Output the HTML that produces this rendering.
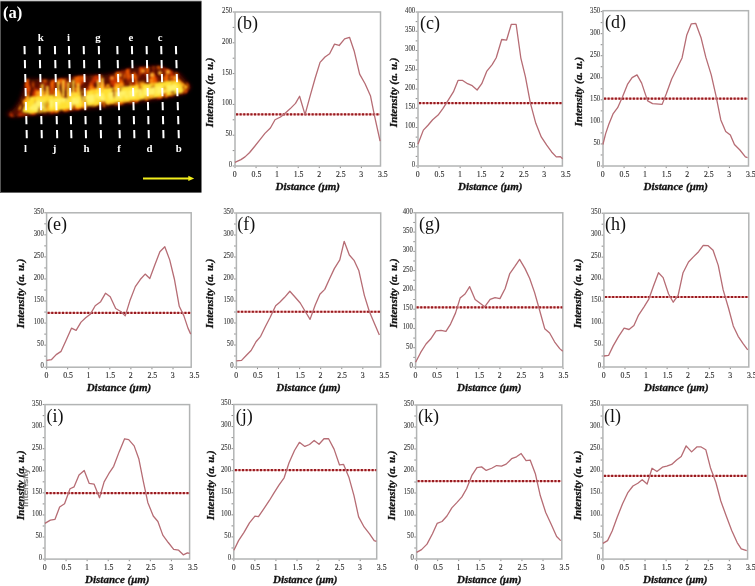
<!DOCTYPE html>
<html><head><meta charset="utf-8"><style>
html,body{margin:0;padding:0;background:#fff;}
svg{display:block;font-family:"Liberation Serif",serif;will-change:transform;filter:blur(0.3px);}
</style></head><body>
<svg width="755" height="586" viewBox="0 0 755 586">
<rect x="0" y="1" width="201.5" height="191.6" fill="#000"/>
<rect x="0" y="1" width="1" height="191.6" fill="#555"/>
<rect x="0" y="0" width="201.5" height="1.3" fill="#cfcfcf"/>
<defs><filter id="bl" x="-20%" y="-50%" width="140%" height="200%"><feGaussianBlur stdDeviation="2.2"/></filter><filter id="tx1" x="-10%" y="-40%" width="120%" height="180%"><feTurbulence type="fractalNoise" baseFrequency="0.2 0.07" numOctaves="2" seed="7" result="n"/><feColorMatrix in="n" type="matrix" values="0 0 0 0 0  0 0 0 0 0  0 0 0 0 0  7 0 0 0 -3.6" result="m"/><feComposite in="SourceGraphic" in2="m" operator="in" result="c"/><feGaussianBlur in="c" stdDeviation="0.8"/></filter><filter id="tx2" x="-10%" y="-40%" width="120%" height="180%"><feTurbulence type="fractalNoise" baseFrequency="0.18 0.06" numOctaves="2" seed="11" result="n"/><feColorMatrix in="n" type="matrix" values="0 0 0 0 0  0 0 0 0 0  0 0 0 0 0  6 0 0 0 -2.2" result="m"/><feComposite in="SourceGraphic" in2="m" operator="in" result="c"/><feGaussianBlur in="c" stdDeviation="0.8"/></filter><filter id="tx3" x="-10%" y="-40%" width="120%" height="180%"><feTurbulence type="fractalNoise" baseFrequency="0.16 0.08" numOctaves="1" seed="3" result="n"/><feColorMatrix in="n" type="matrix" values="0 0 0 0 0  0 0 0 0 0  0 0 0 0 0  6 0 0 0 -2.9" result="m"/><feComposite in="SourceGraphic" in2="m" operator="in" result="c"/><feGaussianBlur in="c" stdDeviation="0.9"/></filter><filter id="tx4" x="-10%" y="-40%" width="120%" height="180%"><feTurbulence type="fractalNoise" baseFrequency="0.2 0.09" numOctaves="2" seed="21" result="n"/><feColorMatrix in="n" type="matrix" values="0 0 0 0 0  0 0 0 0 0  0 0 0 0 0  7 0 0 0 -3.2" result="m"/><feComposite in="SourceGraphic" in2="m" operator="in" result="c"/><feGaussianBlur in="c" stdDeviation="0.8"/></filter><filter id="tx5" x="-10%" y="-40%" width="120%" height="180%"><feTurbulence type="fractalNoise" baseFrequency="0.16 0.08" numOctaves="1" seed="5" result="n"/><feColorMatrix in="n" type="matrix" values="0 0 0 0 0  0 0 0 0 0  0 0 0 0 0  5 0 0 0 -1.3" result="m"/><feComposite in="SourceGraphic" in2="m" operator="in" result="c"/><feGaussianBlur in="c" stdDeviation="0.9"/></filter><filter id="bl3" x="-20%" y="-50%" width="140%" height="200%"><feGaussianBlur stdDeviation="1"/></filter></defs>
<polygon points="6,114 14,109 20,100 24,88 27,79 53,80 80,76 106,75 132,68 159,66 180,74 191,87 186,93 180,95 159,99 132,103 106,107 80,109.5 53,113.5 27,115.5 12,117" fill="#5a0c00" filter="url(#bl)"/>
<polygon points="6,114 14,109 20,100 24,88 27,79 53,80 80,76 106,75 132,68 159,66 180,74 191,87 186,93 180,95 159,99 132,103 106,107 80,109.5 53,113.5 27,115.5 12,117" fill="#c83000" filter="url(#tx3)"/>
<polygon points="20,100 24,88 27,79 53,80 80,76 106,75 132,68 159,66 180,74 191,87 186,93 180,95 159,99 132,103 106,107 80,109.5 53,113.5" fill="#f06000" filter="url(#tx1)"/>
<polygon points="18,110 24,98 30,91 60,90 100,85 140,81 175,76 188,87 180,93 159,97 132,101 106,105 80,108 53,112 27,113" fill="#ffa012" filter="url(#tx4)"/>
<polygon points="22,112 28,97 60,94 100,89 140,85 175,80 187,87 182,93 160,97 130,101 100,104.5 60,110 30,113.5" fill="#ffe030" filter="url(#tx5)"/>
<polygon points="28,109 38,100 70,98 100,93 140,89 175,84 182,89 160,94 130,98 100,101.5 60,106.5 35,111" fill="#fff268" filter="url(#tx2)"/>
<g filter="url(#bl3)" opacity="0.9"><rect x="41" y="84" width="2.6" height="14" fill="#ffd23a"/><rect x="46" y="86" width="2.6" height="12" fill="#ffd23a"/><rect x="57" y="81" width="2.6" height="16" fill="#ffd23a"/><rect x="62" y="80" width="2.6" height="17" fill="#ffd23a"/><rect x="67" y="82" width="2.6" height="15" fill="#ffd23a"/><rect x="72" y="80" width="2.6" height="16" fill="#ffd23a"/><rect x="77" y="83" width="2.6" height="12" fill="#ffd23a"/><rect x="97" y="80" width="2.6" height="12" fill="#ffd23a"/><rect x="101" y="78" width="2.6" height="14" fill="#ffd23a"/></g>
<g filter="url(#bl3)"><circle cx="152" cy="75" r="2.2" fill="#ffb030"/><circle cx="160" cy="73" r="2" fill="#ffb030"/><circle cx="168" cy="72" r="2" fill="#ffb030"/><circle cx="143" cy="71" r="1.8" fill="#ffb030"/><circle cx="175" cy="78" r="1.8" fill="#ffb030"/><circle cx="120" cy="75" r="1.8" fill="#ffb030"/><circle cx="112" cy="78" r="1.6" fill="#ffb030"/></g>
<path d="M24.5 46L24.71 54.2 M24.85 60L25.05 68.2 M25.2 74L25.41 82.2 M25.55 88L25.75 96.2 M25.9 102L26.11 110.2 M26.25 116L26.46 124.2 M26.6 130L26.8 138.2 M39.6 46L39.8 54.2 M39.93 60L40.13 68.2 M40.27 74L40.47 82.2 M40.6 88L40.8 96.2 M40.94 102L41.14 110.2 M41.27 116L41.47 124.2 M41.61 130L41.8 138.2 M54.9 46L55.1 54.2 M55.25 60L55.45 68.2 M55.6 74L55.8 82.2 M55.95 88L56.16 96.2 M56.3 102L56.51 110.2 M56.65 116L56.86 124.2 M57 130L57.21 138.2 M68.9 46L69.12 54.2 M69.28 60L69.5 68.2 M69.66 74L69.88 82.2 M70.04 88L70.26 96.2 M70.42 102L70.64 110.2 M70.8 116L71.03 124.2 M71.18 130L71.41 138.2 M83.7 46L83.91 54.2 M84.05 60L84.25 68.2 M84.4 74L84.61 82.2 M84.75 88L84.95 96.2 M85.1 102L85.31 110.2 M85.45 116L85.66 124.2 M85.8 130L86 138.2 M98.8 46L99 54.2 M99.13 60L99.33 68.2 M99.47 74L99.67 82.2 M99.8 88L100 96.2 M100.14 102L100.34 110.2 M100.47 116L100.67 124.2 M100.81 130L101 138.2 M117.3 46L117.52 54.2 M117.68 60L117.9 68.2 M118.06 74L118.28 82.2 M118.44 88L118.66 96.2 M118.82 102L119.04 110.2 M119.2 116L119.42 124.2 M119.58 130L119.81 138.2 M131.9 46L132.12 54.2 M132.28 60L132.5 68.2 M132.66 74L132.88 82.2 M133.04 88L133.26 96.2 M133.42 102L133.64 110.2 M133.8 116L134.03 124.2 M134.18 130L134.41 138.2 M146.6 46L146.8 54.2 M146.93 60L147.13 68.2 M147.27 74L147.47 82.2 M147.6 88L147.8 96.2 M147.94 102L148.14 110.2 M148.27 116L148.47 124.2 M148.61 130L148.8 138.2 M161.2 46L161.41 54.2 M161.55 60L161.75 68.2 M161.9 74L162.1 82.2 M162.25 88L162.45 96.2 M162.6 102L162.81 110.2 M162.95 116L163.16 124.2 M163.3 130L163.5 138.2 M175.9 46L176.16 54.2 M176.34 60L176.6 68.2 M176.78 74L177.04 82.2 M177.22 88L177.48 96.2 M177.67 102L177.92 110.2 M178.11 116L178.37 124.2 M178.55 130L178.81 138.2" stroke="#fff" stroke-width="2" fill="none"/>
<text x="40.8" y="40.8" text-anchor="middle" font-size="10.8" font-weight="bold" fill="#fff">k</text>
<text x="68.6" y="40.8" text-anchor="middle" font-size="10.8" font-weight="bold" fill="#fff">i</text>
<text x="98" y="40.8" text-anchor="middle" font-size="10.8" font-weight="bold" fill="#fff">g</text>
<text x="130.8" y="40.8" text-anchor="middle" font-size="10.8" font-weight="bold" fill="#fff">e</text>
<text x="160.1" y="40.8" text-anchor="middle" font-size="10.8" font-weight="bold" fill="#fff">c</text>
<text x="25.5" y="151.8" text-anchor="middle" font-size="10.8" font-weight="bold" fill="#fff">l</text>
<text x="54.6" y="151.8" text-anchor="middle" font-size="10.8" font-weight="bold" fill="#fff">j</text>
<text x="86.5" y="151.8" text-anchor="middle" font-size="10.8" font-weight="bold" fill="#fff">h</text>
<text x="119.1" y="151.8" text-anchor="middle" font-size="10.8" font-weight="bold" fill="#fff">f</text>
<text x="149.5" y="151.8" text-anchor="middle" font-size="10.8" font-weight="bold" fill="#fff">d</text>
<text x="178.8" y="151.8" text-anchor="middle" font-size="10.8" font-weight="bold" fill="#fff">b</text>
<text x="3" y="18" font-size="16.5" font-weight="bold" fill="#fff">(a)</text>
<path d="M143 178.4H189" stroke="#f2ee1c" stroke-width="2"/>
<path d="M188.3 175.8L194.2 178.4L188.3 181Z" fill="#f2ee1c"/>
<rect x="235" y="12" width="145.5" height="154" fill="none" stroke="#b2b4b4" stroke-width="1.5"/>
<path d="M234.3 166h-1.6 M234.3 150.6h-1.6 M234.3 135.2h-1.6 M234.3 119.8h-1.6 M234.3 104.4h-1.6 M234.3 89h-1.6 M234.3 73.6h-1.6 M234.3 58.2h-1.6 M234.3 42.8h-1.6 M234.3 27.4h-1.6 M234.3 12h-1.6 M235 166.7v1.4 M256.07 166.7v1.4 M277.14 166.7v1.4 M298.21 166.7v1.4 M319.28 166.7v1.4 M340.35 166.7v1.4 M361.42 166.7v1.4" stroke="#8a8a8a" stroke-width="1" fill="none"/>
<text transform="translate(232.2 166.9) scale(0.9 1)" text-anchor="end" font-size="7.5" fill="#3a3a3a" stroke="#3a3a3a" stroke-width="0.1">0</text>
<text transform="translate(232.2 136.1) scale(0.9 1)" text-anchor="end" font-size="7.5" fill="#3a3a3a" stroke="#3a3a3a" stroke-width="0.1">50</text>
<text transform="translate(232.2 105.3) scale(0.9 1)" text-anchor="end" font-size="7.5" fill="#3a3a3a" stroke="#3a3a3a" stroke-width="0.1">100</text>
<text transform="translate(232.2 74.5) scale(0.9 1)" text-anchor="end" font-size="7.5" fill="#3a3a3a" stroke="#3a3a3a" stroke-width="0.1">150</text>
<text transform="translate(232.2 43.7) scale(0.9 1)" text-anchor="end" font-size="7.5" fill="#3a3a3a" stroke="#3a3a3a" stroke-width="0.1">200</text>
<text transform="translate(232.2 12.9) scale(0.9 1)" text-anchor="end" font-size="7.5" fill="#3a3a3a" stroke="#3a3a3a" stroke-width="0.1">250</text>
<text x="234.8" y="176.8" text-anchor="middle" font-size="7.8" fill="#2a2a2a" stroke="#2a2a2a" stroke-width="0.12">0</text>
<text x="256.47" y="176.8" text-anchor="middle" font-size="7.8" fill="#2a2a2a" stroke="#2a2a2a" stroke-width="0.12">0.5</text>
<text x="276.94" y="176.8" text-anchor="middle" font-size="7.8" fill="#2a2a2a" stroke="#2a2a2a" stroke-width="0.12">1</text>
<text x="298.61" y="176.8" text-anchor="middle" font-size="7.8" fill="#2a2a2a" stroke="#2a2a2a" stroke-width="0.12">1.5</text>
<text x="319.08" y="176.8" text-anchor="middle" font-size="7.8" fill="#2a2a2a" stroke="#2a2a2a" stroke-width="0.12">2</text>
<text x="340.75" y="176.8" text-anchor="middle" font-size="7.8" fill="#2a2a2a" stroke="#2a2a2a" stroke-width="0.12">2.5</text>
<text x="361.22" y="176.8" text-anchor="middle" font-size="7.8" fill="#2a2a2a" stroke="#2a2a2a" stroke-width="0.12">3</text>
<text x="382.89" y="176.8" text-anchor="middle" font-size="7.8" fill="#2a2a2a" stroke="#2a2a2a" stroke-width="0.12">3.5</text>
<text x="307.75" y="190.2" text-anchor="middle" font-size="11" font-weight="bold" font-style="italic" fill="#111" stroke="#111" stroke-width="0.3">Distance (μm)</text>
<text transform="translate(213.3 92.3) rotate(-90)" text-anchor="middle" font-size="11" font-weight="bold" font-style="italic" fill="#111" stroke="#111" stroke-width="0.3">Intensity (a. u.)</text>
<text x="237" y="29" font-size="18" fill="#111">(b)</text>
<line x1="236" y1="114.3" x2="380" y2="114.3" stroke="#e06060" stroke-width="1.8" opacity="0.5"/>
<line x1="236" y1="114.3" x2="380" y2="114.3" stroke="#961a1f" stroke-width="2.2" stroke-dasharray="2.1 1.5"/>
<path d="M234.91 162.35 L240.92 159.62 L245.01 156.89 L249.65 152.53 L254.56 146.52 L260.02 139.69 L264.93 133.41 L270.39 127.95 L275.03 119.76 L280.48 117.03 L284.58 113.75 L290.04 108.84 L295.49 103.38 L299.59 96.28 L305.04 114.57 L310.5 94.64 L315.14 78.26 L320.05 62.42 L324.96 56.96 L329.6 53.69 L334.52 44.13 L339.15 45.49 L344.61 38.94 L349.52 37.3 L354.16 50.96 L359.62 74.16 L365.08 83.72 L370.54 96.01 L374.63 116.48 L380.09 141.06" fill="none" stroke="#b66c74" stroke-width="1.3" stroke-linejoin="round"/>
<rect x="418" y="12" width="144.4" height="154" fill="none" stroke="#b2b4b4" stroke-width="1.5"/>
<path d="M417.3 166h-1.6 M417.3 156.38h-1.6 M417.3 146.75h-1.6 M417.3 137.12h-1.6 M417.3 127.5h-1.6 M417.3 117.88h-1.6 M417.3 108.25h-1.6 M417.3 98.62h-1.6 M417.3 89h-1.6 M417.3 79.38h-1.6 M417.3 69.75h-1.6 M417.3 60.12h-1.6 M417.3 50.5h-1.6 M417.3 40.88h-1.6 M417.3 31.25h-1.6 M417.3 21.62h-1.6 M417.3 12h-1.6 M418 166.7v1.4 M439.07 166.7v1.4 M460.14 166.7v1.4 M481.21 166.7v1.4 M502.28 166.7v1.4 M523.35 166.7v1.4 M544.42 166.7v1.4" stroke="#8a8a8a" stroke-width="1" fill="none"/>
<text transform="translate(415.2 166.9) scale(0.9 1)" text-anchor="end" font-size="7.5" fill="#3a3a3a" stroke="#3a3a3a" stroke-width="0.1">0</text>
<text transform="translate(415.2 147.65) scale(0.9 1)" text-anchor="end" font-size="7.5" fill="#3a3a3a" stroke="#3a3a3a" stroke-width="0.1">50</text>
<text transform="translate(415.2 128.4) scale(0.9 1)" text-anchor="end" font-size="7.5" fill="#3a3a3a" stroke="#3a3a3a" stroke-width="0.1">100</text>
<text transform="translate(415.2 109.15) scale(0.9 1)" text-anchor="end" font-size="7.5" fill="#3a3a3a" stroke="#3a3a3a" stroke-width="0.1">150</text>
<text transform="translate(415.2 89.9) scale(0.9 1)" text-anchor="end" font-size="7.5" fill="#3a3a3a" stroke="#3a3a3a" stroke-width="0.1">200</text>
<text transform="translate(415.2 70.65) scale(0.9 1)" text-anchor="end" font-size="7.5" fill="#3a3a3a" stroke="#3a3a3a" stroke-width="0.1">250</text>
<text transform="translate(415.2 51.4) scale(0.9 1)" text-anchor="end" font-size="7.5" fill="#3a3a3a" stroke="#3a3a3a" stroke-width="0.1">300</text>
<text transform="translate(415.2 32.15) scale(0.9 1)" text-anchor="end" font-size="7.5" fill="#3a3a3a" stroke="#3a3a3a" stroke-width="0.1">350</text>
<text transform="translate(415.2 12.9) scale(0.9 1)" text-anchor="end" font-size="7.5" fill="#3a3a3a" stroke="#3a3a3a" stroke-width="0.1">400</text>
<text x="417.8" y="176.8" text-anchor="middle" font-size="7.8" fill="#2a2a2a" stroke="#2a2a2a" stroke-width="0.12">0</text>
<text x="439.47" y="176.8" text-anchor="middle" font-size="7.8" fill="#2a2a2a" stroke="#2a2a2a" stroke-width="0.12">0.5</text>
<text x="459.94" y="176.8" text-anchor="middle" font-size="7.8" fill="#2a2a2a" stroke="#2a2a2a" stroke-width="0.12">1</text>
<text x="481.61" y="176.8" text-anchor="middle" font-size="7.8" fill="#2a2a2a" stroke="#2a2a2a" stroke-width="0.12">1.5</text>
<text x="502.08" y="176.8" text-anchor="middle" font-size="7.8" fill="#2a2a2a" stroke="#2a2a2a" stroke-width="0.12">2</text>
<text x="523.75" y="176.8" text-anchor="middle" font-size="7.8" fill="#2a2a2a" stroke="#2a2a2a" stroke-width="0.12">2.5</text>
<text x="544.22" y="176.8" text-anchor="middle" font-size="7.8" fill="#2a2a2a" stroke="#2a2a2a" stroke-width="0.12">3</text>
<text x="565.89" y="176.8" text-anchor="middle" font-size="7.8" fill="#2a2a2a" stroke="#2a2a2a" stroke-width="0.12">3.5</text>
<text x="490.2" y="190.2" text-anchor="middle" font-size="11" font-weight="bold" font-style="italic" fill="#111" stroke="#111" stroke-width="0.3">Distance (μm)</text>
<text transform="translate(396.7 92.3) rotate(-90)" text-anchor="middle" font-size="11" font-weight="bold" font-style="italic" fill="#111" stroke="#111" stroke-width="0.3">Intensity (a. u.)</text>
<text x="420" y="29" font-size="18" fill="#111">(c)</text>
<line x1="419" y1="103.11" x2="561.9" y2="103.11" stroke="#e06060" stroke-width="1.8" opacity="0.5"/>
<line x1="419" y1="103.11" x2="561.9" y2="103.11" stroke="#961a1f" stroke-width="2.2" stroke-dasharray="2.1 1.5"/>
<path d="M417.91 144.33 L423.37 130.14 L428.01 125.22 L432.65 119.76 L438.11 115.12 L443.02 108.29 L447.93 100.65 L453.39 91.91 L458.03 80.44 L462.67 80.44 L467.58 83.72 L471.67 85.36 L477.13 90 L481.77 83.72 L486.68 71.43 L492.14 64.61 L496.23 57.78 L501.69 39.49 L506.6 40.03 L511.24 24.47 L516.15 24.47 L520.79 57.78 L525.43 76.89 L530.34 102.83 L535.8 123.31 L541.26 136.96 L546.71 145.15 L551.63 151.98 L556.27 156.89 L560.36 156.62 L562.54 158.81" fill="none" stroke="#b66c74" stroke-width="1.3" stroke-linejoin="round"/>
<rect x="603" y="10.7" width="145.5" height="155.3" fill="none" stroke="#b2b4b4" stroke-width="1.5"/>
<path d="M602.3 166h-1.6 M602.3 154.97h-1.6 M602.3 143.94h-1.6 M602.3 132.91h-1.6 M602.3 121.89h-1.6 M602.3 110.86h-1.6 M602.3 99.83h-1.6 M602.3 88.8h-1.6 M602.3 77.77h-1.6 M602.3 66.74h-1.6 M602.3 55.71h-1.6 M602.3 44.69h-1.6 M602.3 33.66h-1.6 M602.3 22.63h-1.6 M602.3 11.6h-1.6 M603 166.7v1.4 M624.07 166.7v1.4 M645.14 166.7v1.4 M666.21 166.7v1.4 M687.28 166.7v1.4 M708.35 166.7v1.4 M729.42 166.7v1.4" stroke="#8a8a8a" stroke-width="1" fill="none"/>
<text transform="translate(600.2 166.9) scale(0.9 1)" text-anchor="end" font-size="7.5" fill="#3a3a3a" stroke="#3a3a3a" stroke-width="0.1">0</text>
<text transform="translate(600.2 144.84) scale(0.9 1)" text-anchor="end" font-size="7.5" fill="#3a3a3a" stroke="#3a3a3a" stroke-width="0.1">50</text>
<text transform="translate(600.2 122.79) scale(0.9 1)" text-anchor="end" font-size="7.5" fill="#3a3a3a" stroke="#3a3a3a" stroke-width="0.1">100</text>
<text transform="translate(600.2 100.73) scale(0.9 1)" text-anchor="end" font-size="7.5" fill="#3a3a3a" stroke="#3a3a3a" stroke-width="0.1">150</text>
<text transform="translate(600.2 78.67) scale(0.9 1)" text-anchor="end" font-size="7.5" fill="#3a3a3a" stroke="#3a3a3a" stroke-width="0.1">200</text>
<text transform="translate(600.2 56.61) scale(0.9 1)" text-anchor="end" font-size="7.5" fill="#3a3a3a" stroke="#3a3a3a" stroke-width="0.1">250</text>
<text transform="translate(600.2 34.56) scale(0.9 1)" text-anchor="end" font-size="7.5" fill="#3a3a3a" stroke="#3a3a3a" stroke-width="0.1">300</text>
<text transform="translate(600.2 12.5) scale(0.9 1)" text-anchor="end" font-size="7.5" fill="#3a3a3a" stroke="#3a3a3a" stroke-width="0.1">350</text>
<text x="602.8" y="176.8" text-anchor="middle" font-size="7.8" fill="#2a2a2a" stroke="#2a2a2a" stroke-width="0.12">0</text>
<text x="624.47" y="176.8" text-anchor="middle" font-size="7.8" fill="#2a2a2a" stroke="#2a2a2a" stroke-width="0.12">0.5</text>
<text x="644.94" y="176.8" text-anchor="middle" font-size="7.8" fill="#2a2a2a" stroke="#2a2a2a" stroke-width="0.12">1</text>
<text x="666.61" y="176.8" text-anchor="middle" font-size="7.8" fill="#2a2a2a" stroke="#2a2a2a" stroke-width="0.12">1.5</text>
<text x="687.08" y="176.8" text-anchor="middle" font-size="7.8" fill="#2a2a2a" stroke="#2a2a2a" stroke-width="0.12">2</text>
<text x="708.75" y="176.8" text-anchor="middle" font-size="7.8" fill="#2a2a2a" stroke="#2a2a2a" stroke-width="0.12">2.5</text>
<text x="729.22" y="176.8" text-anchor="middle" font-size="7.8" fill="#2a2a2a" stroke="#2a2a2a" stroke-width="0.12">3</text>
<text x="750.89" y="176.8" text-anchor="middle" font-size="7.8" fill="#2a2a2a" stroke="#2a2a2a" stroke-width="0.12">3.5</text>
<text x="675.75" y="190.2" text-anchor="middle" font-size="11" font-weight="bold" font-style="italic" fill="#111" stroke="#111" stroke-width="0.3">Distance (μm)</text>
<text transform="translate(581.8 91.65) rotate(-90)" text-anchor="middle" font-size="11" font-weight="bold" font-style="italic" fill="#111" stroke="#111" stroke-width="0.3">Intensity (a. u.)</text>
<text x="605" y="28.1" font-size="18" fill="#111">(d)</text>
<line x1="604" y1="98.65" x2="748" y2="98.65" stroke="#e06060" stroke-width="1.8" opacity="0.5"/>
<line x1="604" y1="98.65" x2="748" y2="98.65" stroke="#961a1f" stroke-width="2.2" stroke-dasharray="2.1 1.5"/>
<path d="M602.91 144.52 L605.64 133.6 L608.92 124.04 L613.01 113.94 L617.65 107.66 L622.56 96.74 L627.47 84.45 L632.11 77.62 L637.02 74.89 L641.66 83.09 L645.76 95.37 L647.67 100.83 L652.58 103.56 L662.13 104.38 L666.22 94.01 L671.68 78.99 L677.14 68.07 L682.05 57.97 L686.69 35.3 L691.33 23.84 L695.69 23.29 L701.15 38.03 L705.79 57.15 L711.25 74.89 L715.89 95.37 L720.8 119.95 L725.71 131.41 L730.35 134.96 L734.44 144.52 L739.9 149.98 L745.36 156.81 L747.54 157.62" fill="none" stroke="#b66c74" stroke-width="1.3" stroke-linejoin="round"/>
<rect x="46.6" y="212.8" width="144.6" height="154.4" fill="none" stroke="#b2b4b4" stroke-width="1.5"/>
<path d="M45.9 367.2h-1.6 M45.9 356.17h-1.6 M45.9 345.14h-1.6 M45.9 334.11h-1.6 M45.9 323.09h-1.6 M45.9 312.06h-1.6 M45.9 301.03h-1.6 M45.9 290h-1.6 M45.9 278.97h-1.6 M45.9 267.94h-1.6 M45.9 256.91h-1.6 M45.9 245.89h-1.6 M45.9 234.86h-1.6 M45.9 223.83h-1.6 M45.9 212.8h-1.6 M46.6 367.9v1.4 M67.67 367.9v1.4 M88.74 367.9v1.4 M109.81 367.9v1.4 M130.88 367.9v1.4 M151.95 367.9v1.4 M173.02 367.9v1.4" stroke="#8a8a8a" stroke-width="1" fill="none"/>
<text transform="translate(43.8 368.1) scale(0.9 1)" text-anchor="end" font-size="7.5" fill="#3a3a3a" stroke="#3a3a3a" stroke-width="0.1">0</text>
<text transform="translate(43.8 346.04) scale(0.9 1)" text-anchor="end" font-size="7.5" fill="#3a3a3a" stroke="#3a3a3a" stroke-width="0.1">50</text>
<text transform="translate(43.8 323.99) scale(0.9 1)" text-anchor="end" font-size="7.5" fill="#3a3a3a" stroke="#3a3a3a" stroke-width="0.1">100</text>
<text transform="translate(43.8 301.93) scale(0.9 1)" text-anchor="end" font-size="7.5" fill="#3a3a3a" stroke="#3a3a3a" stroke-width="0.1">150</text>
<text transform="translate(43.8 279.87) scale(0.9 1)" text-anchor="end" font-size="7.5" fill="#3a3a3a" stroke="#3a3a3a" stroke-width="0.1">200</text>
<text transform="translate(43.8 257.81) scale(0.9 1)" text-anchor="end" font-size="7.5" fill="#3a3a3a" stroke="#3a3a3a" stroke-width="0.1">250</text>
<text transform="translate(43.8 235.76) scale(0.9 1)" text-anchor="end" font-size="7.5" fill="#3a3a3a" stroke="#3a3a3a" stroke-width="0.1">300</text>
<text transform="translate(43.8 213.7) scale(0.9 1)" text-anchor="end" font-size="7.5" fill="#3a3a3a" stroke="#3a3a3a" stroke-width="0.1">350</text>
<text x="46.4" y="378" text-anchor="middle" font-size="7.8" fill="#2a2a2a" stroke="#2a2a2a" stroke-width="0.12">0</text>
<text x="68.07" y="378" text-anchor="middle" font-size="7.8" fill="#2a2a2a" stroke="#2a2a2a" stroke-width="0.12">0.5</text>
<text x="88.54" y="378" text-anchor="middle" font-size="7.8" fill="#2a2a2a" stroke="#2a2a2a" stroke-width="0.12">1</text>
<text x="110.21" y="378" text-anchor="middle" font-size="7.8" fill="#2a2a2a" stroke="#2a2a2a" stroke-width="0.12">1.5</text>
<text x="130.68" y="378" text-anchor="middle" font-size="7.8" fill="#2a2a2a" stroke="#2a2a2a" stroke-width="0.12">2</text>
<text x="152.35" y="378" text-anchor="middle" font-size="7.8" fill="#2a2a2a" stroke="#2a2a2a" stroke-width="0.12">2.5</text>
<text x="172.82" y="378" text-anchor="middle" font-size="7.8" fill="#2a2a2a" stroke="#2a2a2a" stroke-width="0.12">3</text>
<text x="194.49" y="378" text-anchor="middle" font-size="7.8" fill="#2a2a2a" stroke="#2a2a2a" stroke-width="0.12">3.5</text>
<text x="118.9" y="391.4" text-anchor="middle" font-size="11" font-weight="bold" font-style="italic" fill="#111" stroke="#111" stroke-width="0.3">Distance (μm)</text>
<text transform="translate(24.1 293.3) rotate(-90)" text-anchor="middle" font-size="11" font-weight="bold" font-style="italic" fill="#111" stroke="#111" stroke-width="0.3">Intensity (a. u.)</text>
<text x="47" y="230.1" font-size="18" fill="#111">(e)</text>
<line x1="47.6" y1="312.85" x2="190.7" y2="312.85" stroke="#e06060" stroke-width="1.8" opacity="0.5"/>
<line x1="47.6" y1="312.85" x2="190.7" y2="312.85" stroke="#961a1f" stroke-width="2.2" stroke-dasharray="2.1 1.5"/>
<path d="M46.64 360.35 L51.55 359.54 L56.19 354.62 L61.1 351.34 L66.01 340.42 L71.47 328.14 L76.11 330.32 L81.02 322.13 L85.66 317.76 L90.57 313.94 L95.21 305.75 L100.67 301.65 L105.58 293.19 L110.22 296.74 L115.68 308.48 L121.14 311.75 L125.23 315.85 L129.87 300.83 L135.33 286.63 L140.24 279.54 L145.15 274.08 L149.79 278.44 L154.7 265.34 L159.89 251.69 L164.8 246.77 L169.71 259.88 L174.35 278.99 L179.26 306.29 L183.9 315.85 L187.99 328.14 L190.72 334.14" fill="none" stroke="#b66c74" stroke-width="1.3" stroke-linejoin="round"/>
<rect x="236.4" y="213" width="144.3" height="154" fill="none" stroke="#b2b4b4" stroke-width="1.5"/>
<path d="M235.7 367h-1.6 M235.7 356h-1.6 M235.7 345h-1.6 M235.7 334h-1.6 M235.7 323h-1.6 M235.7 312h-1.6 M235.7 301h-1.6 M235.7 290h-1.6 M235.7 279h-1.6 M235.7 268h-1.6 M235.7 257h-1.6 M235.7 246h-1.6 M235.7 235h-1.6 M235.7 224h-1.6 M235.7 213h-1.6 M236.4 367.7v1.4 M257.47 367.7v1.4 M278.54 367.7v1.4 M299.61 367.7v1.4 M320.68 367.7v1.4 M341.75 367.7v1.4 M362.82 367.7v1.4" stroke="#8a8a8a" stroke-width="1" fill="none"/>
<text transform="translate(233.6 367.9) scale(0.9 1)" text-anchor="end" font-size="7.5" fill="#3a3a3a" stroke="#3a3a3a" stroke-width="0.1">0</text>
<text transform="translate(233.6 345.9) scale(0.9 1)" text-anchor="end" font-size="7.5" fill="#3a3a3a" stroke="#3a3a3a" stroke-width="0.1">50</text>
<text transform="translate(233.6 323.9) scale(0.9 1)" text-anchor="end" font-size="7.5" fill="#3a3a3a" stroke="#3a3a3a" stroke-width="0.1">100</text>
<text transform="translate(233.6 301.9) scale(0.9 1)" text-anchor="end" font-size="7.5" fill="#3a3a3a" stroke="#3a3a3a" stroke-width="0.1">150</text>
<text transform="translate(233.6 279.9) scale(0.9 1)" text-anchor="end" font-size="7.5" fill="#3a3a3a" stroke="#3a3a3a" stroke-width="0.1">200</text>
<text transform="translate(233.6 257.9) scale(0.9 1)" text-anchor="end" font-size="7.5" fill="#3a3a3a" stroke="#3a3a3a" stroke-width="0.1">250</text>
<text transform="translate(233.6 235.9) scale(0.9 1)" text-anchor="end" font-size="7.5" fill="#3a3a3a" stroke="#3a3a3a" stroke-width="0.1">300</text>
<text transform="translate(233.6 213.9) scale(0.9 1)" text-anchor="end" font-size="7.5" fill="#3a3a3a" stroke="#3a3a3a" stroke-width="0.1">350</text>
<text x="236.2" y="377.8" text-anchor="middle" font-size="7.8" fill="#2a2a2a" stroke="#2a2a2a" stroke-width="0.12">0</text>
<text x="257.87" y="377.8" text-anchor="middle" font-size="7.8" fill="#2a2a2a" stroke="#2a2a2a" stroke-width="0.12">0.5</text>
<text x="278.34" y="377.8" text-anchor="middle" font-size="7.8" fill="#2a2a2a" stroke="#2a2a2a" stroke-width="0.12">1</text>
<text x="300.01" y="377.8" text-anchor="middle" font-size="7.8" fill="#2a2a2a" stroke="#2a2a2a" stroke-width="0.12">1.5</text>
<text x="320.48" y="377.8" text-anchor="middle" font-size="7.8" fill="#2a2a2a" stroke="#2a2a2a" stroke-width="0.12">2</text>
<text x="342.15" y="377.8" text-anchor="middle" font-size="7.8" fill="#2a2a2a" stroke="#2a2a2a" stroke-width="0.12">2.5</text>
<text x="362.62" y="377.8" text-anchor="middle" font-size="7.8" fill="#2a2a2a" stroke="#2a2a2a" stroke-width="0.12">3</text>
<text x="384.29" y="377.8" text-anchor="middle" font-size="7.8" fill="#2a2a2a" stroke="#2a2a2a" stroke-width="0.12">3.5</text>
<text x="308.55" y="391.2" text-anchor="middle" font-size="11" font-weight="bold" font-style="italic" fill="#111" stroke="#111" stroke-width="0.3">Distance (μm)</text>
<text transform="translate(213.1 293.3) rotate(-90)" text-anchor="middle" font-size="11" font-weight="bold" font-style="italic" fill="#111" stroke="#111" stroke-width="0.3">Intensity (a. u.)</text>
<text x="237.2" y="230.1" font-size="18" fill="#111">(f)</text>
<line x1="237.4" y1="311.75" x2="380.2" y2="311.75" stroke="#e06060" stroke-width="1.8" opacity="0.5"/>
<line x1="237.4" y1="311.75" x2="380.2" y2="311.75" stroke="#961a1f" stroke-width="2.2" stroke-dasharray="2.1 1.5"/>
<path d="M236.37 360.9 L241.55 360.35 L246.19 355.44 L251.1 350.53 L256.01 341.79 L260.65 336.33 L265.29 326.77 L270.2 317.22 L275.66 305.75 L279.76 302.2 L284.39 297.56 L289.85 291.28 L294.76 296.74 L300.22 303.02 L305.13 311.21 L310.05 319.4 L315.23 304.93 L319.87 294.28 L324.78 289.37 L329.69 278.44 L334.33 268.61 L339.79 259.88 L344.16 241.31 L349.34 254.96 L354.25 260.7 L358.89 270.8 L364.35 295.37 L369.26 311.21 L373.9 322.13 L379.36 334.96" fill="none" stroke="#b66c74" stroke-width="1.3" stroke-linejoin="round"/>
<rect x="415.6" y="212.8" width="147.2" height="154.2" fill="none" stroke="#b2b4b4" stroke-width="1.5"/>
<path d="M414.9 367h-1.6 M414.9 357.36h-1.6 M414.9 347.73h-1.6 M414.9 338.09h-1.6 M414.9 328.45h-1.6 M414.9 318.81h-1.6 M414.9 309.18h-1.6 M414.9 299.54h-1.6 M414.9 289.9h-1.6 M414.9 280.26h-1.6 M414.9 270.62h-1.6 M414.9 260.99h-1.6 M414.9 251.35h-1.6 M414.9 241.71h-1.6 M414.9 232.08h-1.6 M414.9 222.44h-1.6 M414.9 212.8h-1.6 M415.6 367.7v1.4 M436.67 367.7v1.4 M457.74 367.7v1.4 M478.81 367.7v1.4 M499.88 367.7v1.4 M520.95 367.7v1.4 M542.02 367.7v1.4 M563.09 367.7v1.4" stroke="#8a8a8a" stroke-width="1" fill="none"/>
<text transform="translate(412.8 367.9) scale(0.9 1)" text-anchor="end" font-size="7.5" fill="#3a3a3a" stroke="#3a3a3a" stroke-width="0.1">0</text>
<text transform="translate(412.8 348.62) scale(0.9 1)" text-anchor="end" font-size="7.5" fill="#3a3a3a" stroke="#3a3a3a" stroke-width="0.1">50</text>
<text transform="translate(412.8 329.35) scale(0.9 1)" text-anchor="end" font-size="7.5" fill="#3a3a3a" stroke="#3a3a3a" stroke-width="0.1">100</text>
<text transform="translate(412.8 310.07) scale(0.9 1)" text-anchor="end" font-size="7.5" fill="#3a3a3a" stroke="#3a3a3a" stroke-width="0.1">150</text>
<text transform="translate(412.8 290.8) scale(0.9 1)" text-anchor="end" font-size="7.5" fill="#3a3a3a" stroke="#3a3a3a" stroke-width="0.1">200</text>
<text transform="translate(412.8 271.52) scale(0.9 1)" text-anchor="end" font-size="7.5" fill="#3a3a3a" stroke="#3a3a3a" stroke-width="0.1">250</text>
<text transform="translate(412.8 252.25) scale(0.9 1)" text-anchor="end" font-size="7.5" fill="#3a3a3a" stroke="#3a3a3a" stroke-width="0.1">300</text>
<text transform="translate(412.8 232.98) scale(0.9 1)" text-anchor="end" font-size="7.5" fill="#3a3a3a" stroke="#3a3a3a" stroke-width="0.1">350</text>
<text transform="translate(412.8 213.7) scale(0.9 1)" text-anchor="end" font-size="7.5" fill="#3a3a3a" stroke="#3a3a3a" stroke-width="0.1">400</text>
<text x="415.4" y="377.8" text-anchor="middle" font-size="7.8" fill="#2a2a2a" stroke="#2a2a2a" stroke-width="0.12">0</text>
<text x="437.07" y="377.8" text-anchor="middle" font-size="7.8" fill="#2a2a2a" stroke="#2a2a2a" stroke-width="0.12">0.5</text>
<text x="457.54" y="377.8" text-anchor="middle" font-size="7.8" fill="#2a2a2a" stroke="#2a2a2a" stroke-width="0.12">1</text>
<text x="479.21" y="377.8" text-anchor="middle" font-size="7.8" fill="#2a2a2a" stroke="#2a2a2a" stroke-width="0.12">1.5</text>
<text x="499.68" y="377.8" text-anchor="middle" font-size="7.8" fill="#2a2a2a" stroke="#2a2a2a" stroke-width="0.12">2</text>
<text x="521.35" y="377.8" text-anchor="middle" font-size="7.8" fill="#2a2a2a" stroke="#2a2a2a" stroke-width="0.12">2.5</text>
<text x="541.82" y="377.8" text-anchor="middle" font-size="7.8" fill="#2a2a2a" stroke="#2a2a2a" stroke-width="0.12">3</text>
<text x="563.49" y="377.8" text-anchor="middle" font-size="7.8" fill="#2a2a2a" stroke="#2a2a2a" stroke-width="0.12">3.5</text>
<text x="489.2" y="391.2" text-anchor="middle" font-size="11" font-weight="bold" font-style="italic" fill="#111" stroke="#111" stroke-width="0.3">Distance (μm)</text>
<text transform="translate(396.7 293.2) rotate(-90)" text-anchor="middle" font-size="11" font-weight="bold" font-style="italic" fill="#111" stroke="#111" stroke-width="0.3">Intensity (a. u.)</text>
<text x="419" y="230.3" font-size="18" fill="#111">(g)</text>
<line x1="416.6" y1="307.39" x2="562.3" y2="307.39" stroke="#e06060" stroke-width="1.8" opacity="0.5"/>
<line x1="416.6" y1="307.39" x2="562.3" y2="307.39" stroke="#961a1f" stroke-width="2.2" stroke-dasharray="2.1 1.5"/>
<path d="M415.64 362.27 L420.55 352.71 L426.01 343.97 L430.65 339.06 L436.11 330.87 L441.02 330.32 L445.93 331.41 L450.57 324.04 L455.48 313.12 L460.12 298.1 L465.03 294.01 L469.67 286.63 L475.13 299.47 L479.77 303.02 L484.68 306.84 L490.14 299.47 L495.05 297.56 L499.96 298.65 L505.15 288.55 L509.79 273.53 L514.7 266.7 L519.61 259.33 L525.07 268.61 L529.71 278.44 L534.62 292.64 L539.26 309.02 L544.71 328.68 L549.63 333.05 L554.54 341.79 L559.72 348.61 L562.73 351.34" fill="none" stroke="#b66c74" stroke-width="1.3" stroke-linejoin="round"/>
<rect x="603.9" y="213.2" width="144.9" height="153.8" fill="none" stroke="#b2b4b4" stroke-width="1.5"/>
<path d="M603.2 367h-1.6 M603.2 356.01h-1.6 M603.2 345.03h-1.6 M603.2 334.04h-1.6 M603.2 323.06h-1.6 M603.2 312.07h-1.6 M603.2 301.09h-1.6 M603.2 290.1h-1.6 M603.2 279.11h-1.6 M603.2 268.13h-1.6 M603.2 257.14h-1.6 M603.2 246.16h-1.6 M603.2 235.17h-1.6 M603.2 224.19h-1.6 M603.2 213.2h-1.6 M603.9 367.7v1.4 M624.97 367.7v1.4 M646.04 367.7v1.4 M667.11 367.7v1.4 M688.18 367.7v1.4 M709.25 367.7v1.4 M730.32 367.7v1.4" stroke="#8a8a8a" stroke-width="1" fill="none"/>
<text transform="translate(601.1 367.9) scale(0.9 1)" text-anchor="end" font-size="7.5" fill="#3a3a3a" stroke="#3a3a3a" stroke-width="0.1">0</text>
<text transform="translate(601.1 345.93) scale(0.9 1)" text-anchor="end" font-size="7.5" fill="#3a3a3a" stroke="#3a3a3a" stroke-width="0.1">50</text>
<text transform="translate(601.1 323.96) scale(0.9 1)" text-anchor="end" font-size="7.5" fill="#3a3a3a" stroke="#3a3a3a" stroke-width="0.1">100</text>
<text transform="translate(601.1 301.99) scale(0.9 1)" text-anchor="end" font-size="7.5" fill="#3a3a3a" stroke="#3a3a3a" stroke-width="0.1">150</text>
<text transform="translate(601.1 280.01) scale(0.9 1)" text-anchor="end" font-size="7.5" fill="#3a3a3a" stroke="#3a3a3a" stroke-width="0.1">200</text>
<text transform="translate(601.1 258.04) scale(0.9 1)" text-anchor="end" font-size="7.5" fill="#3a3a3a" stroke="#3a3a3a" stroke-width="0.1">250</text>
<text transform="translate(601.1 236.07) scale(0.9 1)" text-anchor="end" font-size="7.5" fill="#3a3a3a" stroke="#3a3a3a" stroke-width="0.1">300</text>
<text transform="translate(601.1 214.1) scale(0.9 1)" text-anchor="end" font-size="7.5" fill="#3a3a3a" stroke="#3a3a3a" stroke-width="0.1">350</text>
<text x="603.7" y="377.8" text-anchor="middle" font-size="7.8" fill="#2a2a2a" stroke="#2a2a2a" stroke-width="0.12">0</text>
<text x="625.37" y="377.8" text-anchor="middle" font-size="7.8" fill="#2a2a2a" stroke="#2a2a2a" stroke-width="0.12">0.5</text>
<text x="645.84" y="377.8" text-anchor="middle" font-size="7.8" fill="#2a2a2a" stroke="#2a2a2a" stroke-width="0.12">1</text>
<text x="667.51" y="377.8" text-anchor="middle" font-size="7.8" fill="#2a2a2a" stroke="#2a2a2a" stroke-width="0.12">1.5</text>
<text x="687.98" y="377.8" text-anchor="middle" font-size="7.8" fill="#2a2a2a" stroke="#2a2a2a" stroke-width="0.12">2</text>
<text x="709.65" y="377.8" text-anchor="middle" font-size="7.8" fill="#2a2a2a" stroke="#2a2a2a" stroke-width="0.12">2.5</text>
<text x="730.12" y="377.8" text-anchor="middle" font-size="7.8" fill="#2a2a2a" stroke="#2a2a2a" stroke-width="0.12">3</text>
<text x="751.79" y="377.8" text-anchor="middle" font-size="7.8" fill="#2a2a2a" stroke="#2a2a2a" stroke-width="0.12">3.5</text>
<text x="676.35" y="391.2" text-anchor="middle" font-size="11" font-weight="bold" font-style="italic" fill="#111" stroke="#111" stroke-width="0.3">Distance (μm)</text>
<text transform="translate(581.4 293.4) rotate(-90)" text-anchor="middle" font-size="11" font-weight="bold" font-style="italic" fill="#111" stroke="#111" stroke-width="0.3">Intensity (a. u.)</text>
<text x="604.9" y="230.1" font-size="18" fill="#111">(h)</text>
<line x1="604.9" y1="297.01" x2="748.3" y2="297.01" stroke="#e06060" stroke-width="1.8" opacity="0.5"/>
<line x1="604.9" y1="297.01" x2="748.3" y2="297.01" stroke="#961a1f" stroke-width="2.2" stroke-dasharray="2.1 1.5"/>
<path d="M603.91 355.99 L608.55 355.44 L613.19 345.88 L618.65 336.33 L624.11 328.14 L629.02 329.5 L633.93 325.41 L638.57 315.03 L644.03 306.84 L648.67 299.47 L653.58 285.82 L658.49 272.71 L663.13 277.62 L668.59 294.01 L673.23 302.2 L678.14 295.37 L683.05 272.71 L688.51 262.06 L693.15 257.15 L698.6 251.69 L703.24 245.41 L708.15 245.68 L713.07 250.32 L718.25 265.34 L723.16 289.91 L728.62 308.48 L733.26 325.95 L738.17 336.33 L743.08 343.7 L747.72 349.98" fill="none" stroke="#b66c74" stroke-width="1.3" stroke-linejoin="round"/>
<rect x="45" y="404.6" width="144.6" height="154.5" fill="none" stroke="#b2b4b4" stroke-width="1.5"/>
<path d="M44.3 559.1h-1.6 M44.3 548.06h-1.6 M44.3 537.03h-1.6 M44.3 525.99h-1.6 M44.3 514.96h-1.6 M44.3 503.92h-1.6 M44.3 492.89h-1.6 M44.3 481.85h-1.6 M44.3 470.81h-1.6 M44.3 459.78h-1.6 M44.3 448.74h-1.6 M44.3 437.71h-1.6 M44.3 426.67h-1.6 M44.3 415.64h-1.6 M44.3 404.6h-1.6 M45 559.8v1.4 M66.07 559.8v1.4 M87.14 559.8v1.4 M108.21 559.8v1.4 M129.28 559.8v1.4 M150.35 559.8v1.4 M171.42 559.8v1.4" stroke="#8a8a8a" stroke-width="1" fill="none"/>
<text transform="translate(42.2 560) scale(0.9 1)" text-anchor="end" font-size="7.5" fill="#3a3a3a" stroke="#3a3a3a" stroke-width="0.1">0</text>
<text transform="translate(42.2 537.93) scale(0.9 1)" text-anchor="end" font-size="7.5" fill="#3a3a3a" stroke="#3a3a3a" stroke-width="0.1">50</text>
<text transform="translate(42.2 515.86) scale(0.9 1)" text-anchor="end" font-size="7.5" fill="#3a3a3a" stroke="#3a3a3a" stroke-width="0.1">100</text>
<text transform="translate(42.2 493.79) scale(0.9 1)" text-anchor="end" font-size="7.5" fill="#3a3a3a" stroke="#3a3a3a" stroke-width="0.1">150</text>
<text transform="translate(42.2 471.71) scale(0.9 1)" text-anchor="end" font-size="7.5" fill="#3a3a3a" stroke="#3a3a3a" stroke-width="0.1">200</text>
<text transform="translate(42.2 449.64) scale(0.9 1)" text-anchor="end" font-size="7.5" fill="#3a3a3a" stroke="#3a3a3a" stroke-width="0.1">250</text>
<text transform="translate(42.2 427.57) scale(0.9 1)" text-anchor="end" font-size="7.5" fill="#3a3a3a" stroke="#3a3a3a" stroke-width="0.1">300</text>
<text transform="translate(42.2 405.5) scale(0.9 1)" text-anchor="end" font-size="7.5" fill="#3a3a3a" stroke="#3a3a3a" stroke-width="0.1">350</text>
<text x="44.8" y="569.9" text-anchor="middle" font-size="7.8" fill="#2a2a2a" stroke="#2a2a2a" stroke-width="0.12">0</text>
<text x="66.47" y="569.9" text-anchor="middle" font-size="7.8" fill="#2a2a2a" stroke="#2a2a2a" stroke-width="0.12">0.5</text>
<text x="86.94" y="569.9" text-anchor="middle" font-size="7.8" fill="#2a2a2a" stroke="#2a2a2a" stroke-width="0.12">1</text>
<text x="108.61" y="569.9" text-anchor="middle" font-size="7.8" fill="#2a2a2a" stroke="#2a2a2a" stroke-width="0.12">1.5</text>
<text x="129.08" y="569.9" text-anchor="middle" font-size="7.8" fill="#2a2a2a" stroke="#2a2a2a" stroke-width="0.12">2</text>
<text x="150.75" y="569.9" text-anchor="middle" font-size="7.8" fill="#2a2a2a" stroke="#2a2a2a" stroke-width="0.12">2.5</text>
<text x="171.22" y="569.9" text-anchor="middle" font-size="7.8" fill="#2a2a2a" stroke="#2a2a2a" stroke-width="0.12">3</text>
<text x="192.89" y="569.9" text-anchor="middle" font-size="7.8" fill="#2a2a2a" stroke="#2a2a2a" stroke-width="0.12">3.5</text>
<text x="117.3" y="583.3" text-anchor="middle" font-size="11" font-weight="bold" font-style="italic" fill="#111" stroke="#111" stroke-width="0.3">Distance (μm)</text>
<text transform="translate(24 485.15) rotate(-90)" text-anchor="middle" font-size="11" font-weight="bold" font-style="italic" fill="#111" stroke="#111" stroke-width="0.3">Intensity (a. u.)</text>
<text x="46.5" y="421.8" font-size="18" fill="#111">(i)</text>
<line x1="46" y1="493.11" x2="189.1" y2="493.11" stroke="#e06060" stroke-width="1.8" opacity="0.5"/>
<line x1="46" y1="493.11" x2="189.1" y2="493.11" stroke="#961a1f" stroke-width="2.2" stroke-dasharray="2.1 1.5"/>
<path d="M44.91 523.41 L50.37 520.14 L55.01 519.32 L59.65 507.03 L64.56 503.75 L70.02 488.74 L74.11 486.83 L79.02 475.09 L84.21 470.44 L89.12 483.28 L94.03 484.1 L99.49 497.75 L104.13 481.91 L108.77 473.72 L113.68 466.35 L119.14 451.88 L124.6 438.77 L128.69 439.59 L134.15 445.87 L138.79 458.7 L143.15 480.55 L147.79 502.39 L153.25 516.04 L157.89 521.5 L162.8 535.15 L168.26 542.53 L173.71 549.35 L178.63 550.17 L183.27 554.81 L187.36 552.9 L189.54 553.45" fill="none" stroke="#b66c74" stroke-width="1.3" stroke-linejoin="round"/>
<rect x="233.8" y="404.5" width="142.9" height="154.5" fill="none" stroke="#b2b4b4" stroke-width="1.5"/>
<path d="M233.1 559h-1.6 M233.1 547.96h-1.6 M233.1 536.93h-1.6 M233.1 525.89h-1.6 M233.1 514.86h-1.6 M233.1 503.82h-1.6 M233.1 492.79h-1.6 M233.1 481.75h-1.6 M233.1 470.71h-1.6 M233.1 459.68h-1.6 M233.1 448.64h-1.6 M233.1 437.61h-1.6 M233.1 426.57h-1.6 M233.1 415.54h-1.6 M233.1 404.5h-1.6 M233.8 559.7v1.4 M254.87 559.7v1.4 M275.94 559.7v1.4 M297.01 559.7v1.4 M318.08 559.7v1.4 M339.15 559.7v1.4 M360.22 559.7v1.4" stroke="#8a8a8a" stroke-width="1" fill="none"/>
<text transform="translate(231 559.9) scale(0.9 1)" text-anchor="end" font-size="7.5" fill="#3a3a3a" stroke="#3a3a3a" stroke-width="0.1">0</text>
<text transform="translate(231 537.83) scale(0.9 1)" text-anchor="end" font-size="7.5" fill="#3a3a3a" stroke="#3a3a3a" stroke-width="0.1">50</text>
<text transform="translate(231 515.76) scale(0.9 1)" text-anchor="end" font-size="7.5" fill="#3a3a3a" stroke="#3a3a3a" stroke-width="0.1">100</text>
<text transform="translate(231 493.69) scale(0.9 1)" text-anchor="end" font-size="7.5" fill="#3a3a3a" stroke="#3a3a3a" stroke-width="0.1">150</text>
<text transform="translate(231 471.61) scale(0.9 1)" text-anchor="end" font-size="7.5" fill="#3a3a3a" stroke="#3a3a3a" stroke-width="0.1">200</text>
<text transform="translate(231 449.54) scale(0.9 1)" text-anchor="end" font-size="7.5" fill="#3a3a3a" stroke="#3a3a3a" stroke-width="0.1">250</text>
<text transform="translate(231 427.47) scale(0.9 1)" text-anchor="end" font-size="7.5" fill="#3a3a3a" stroke="#3a3a3a" stroke-width="0.1">300</text>
<text transform="translate(231 405.4) scale(0.9 1)" text-anchor="end" font-size="7.5" fill="#3a3a3a" stroke="#3a3a3a" stroke-width="0.1">350</text>
<text x="233.6" y="569.8" text-anchor="middle" font-size="7.8" fill="#2a2a2a" stroke="#2a2a2a" stroke-width="0.12">0</text>
<text x="255.27" y="569.8" text-anchor="middle" font-size="7.8" fill="#2a2a2a" stroke="#2a2a2a" stroke-width="0.12">0.5</text>
<text x="275.74" y="569.8" text-anchor="middle" font-size="7.8" fill="#2a2a2a" stroke="#2a2a2a" stroke-width="0.12">1</text>
<text x="297.41" y="569.8" text-anchor="middle" font-size="7.8" fill="#2a2a2a" stroke="#2a2a2a" stroke-width="0.12">1.5</text>
<text x="317.88" y="569.8" text-anchor="middle" font-size="7.8" fill="#2a2a2a" stroke="#2a2a2a" stroke-width="0.12">2</text>
<text x="339.55" y="569.8" text-anchor="middle" font-size="7.8" fill="#2a2a2a" stroke="#2a2a2a" stroke-width="0.12">2.5</text>
<text x="360.02" y="569.8" text-anchor="middle" font-size="7.8" fill="#2a2a2a" stroke="#2a2a2a" stroke-width="0.12">3</text>
<text x="381.69" y="569.8" text-anchor="middle" font-size="7.8" fill="#2a2a2a" stroke="#2a2a2a" stroke-width="0.12">3.5</text>
<text x="305.25" y="583.2" text-anchor="middle" font-size="11" font-weight="bold" font-style="italic" fill="#111" stroke="#111" stroke-width="0.3">Distance (μm)</text>
<text transform="translate(213.6 485.05) rotate(-90)" text-anchor="middle" font-size="11" font-weight="bold" font-style="italic" fill="#111" stroke="#111" stroke-width="0.3">Intensity (a. u.)</text>
<text x="235.7" y="421.8" font-size="18" fill="#111">(j)</text>
<line x1="234.8" y1="470.17" x2="376.2" y2="470.17" stroke="#e06060" stroke-width="1.8" opacity="0.5"/>
<line x1="234.8" y1="470.17" x2="376.2" y2="470.17" stroke="#961a1f" stroke-width="2.2" stroke-dasharray="2.1 1.5"/>
<path d="M233.91 550.17 L238.55 540.61 L244.01 532.42 L249.47 522.87 L254.92 516.04 L258.47 516.59 L263.93 508.67 L269.39 500.48 L274.03 492.83 L278.94 485.19 L284.12 477.82 L289.04 462.8 L294.49 450.51 L299.4 442.32 L304.86 446.42 L309.5 444.51 L314.14 440.41 L319.05 444.23 L323.96 438.77 L328.6 438.77 L334.06 449.15 L339.52 464.98 L343.61 464.44 L349.07 477.82 L353.98 495.56 L358.62 516.86 L364.08 526.96 L369.54 533.79 L374.18 540.61 L376.36 541.43" fill="none" stroke="#b66c74" stroke-width="1.3" stroke-linejoin="round"/>
<rect x="416.6" y="405" width="145.2" height="154" fill="none" stroke="#b2b4b4" stroke-width="1.5"/>
<path d="M415.9 559h-1.6 M415.9 548h-1.6 M415.9 537h-1.6 M415.9 526h-1.6 M415.9 515h-1.6 M415.9 504h-1.6 M415.9 493h-1.6 M415.9 482h-1.6 M415.9 471h-1.6 M415.9 460h-1.6 M415.9 449h-1.6 M415.9 438h-1.6 M415.9 427h-1.6 M415.9 416h-1.6 M415.9 405h-1.6 M416.6 559.7v1.4 M437.67 559.7v1.4 M458.74 559.7v1.4 M479.81 559.7v1.4 M500.88 559.7v1.4 M521.95 559.7v1.4 M543.02 559.7v1.4" stroke="#8a8a8a" stroke-width="1" fill="none"/>
<text transform="translate(413.8 559.9) scale(0.9 1)" text-anchor="end" font-size="7.5" fill="#3a3a3a" stroke="#3a3a3a" stroke-width="0.1">0</text>
<text transform="translate(413.8 537.9) scale(0.9 1)" text-anchor="end" font-size="7.5" fill="#3a3a3a" stroke="#3a3a3a" stroke-width="0.1">50</text>
<text transform="translate(413.8 515.9) scale(0.9 1)" text-anchor="end" font-size="7.5" fill="#3a3a3a" stroke="#3a3a3a" stroke-width="0.1">100</text>
<text transform="translate(413.8 493.9) scale(0.9 1)" text-anchor="end" font-size="7.5" fill="#3a3a3a" stroke="#3a3a3a" stroke-width="0.1">150</text>
<text transform="translate(413.8 471.9) scale(0.9 1)" text-anchor="end" font-size="7.5" fill="#3a3a3a" stroke="#3a3a3a" stroke-width="0.1">200</text>
<text transform="translate(413.8 449.9) scale(0.9 1)" text-anchor="end" font-size="7.5" fill="#3a3a3a" stroke="#3a3a3a" stroke-width="0.1">250</text>
<text transform="translate(413.8 427.9) scale(0.9 1)" text-anchor="end" font-size="7.5" fill="#3a3a3a" stroke="#3a3a3a" stroke-width="0.1">300</text>
<text transform="translate(413.8 405.9) scale(0.9 1)" text-anchor="end" font-size="7.5" fill="#3a3a3a" stroke="#3a3a3a" stroke-width="0.1">350</text>
<text x="416.4" y="569.8" text-anchor="middle" font-size="7.8" fill="#2a2a2a" stroke="#2a2a2a" stroke-width="0.12">0</text>
<text x="438.07" y="569.8" text-anchor="middle" font-size="7.8" fill="#2a2a2a" stroke="#2a2a2a" stroke-width="0.12">0.5</text>
<text x="458.54" y="569.8" text-anchor="middle" font-size="7.8" fill="#2a2a2a" stroke="#2a2a2a" stroke-width="0.12">1</text>
<text x="480.21" y="569.8" text-anchor="middle" font-size="7.8" fill="#2a2a2a" stroke="#2a2a2a" stroke-width="0.12">1.5</text>
<text x="500.68" y="569.8" text-anchor="middle" font-size="7.8" fill="#2a2a2a" stroke="#2a2a2a" stroke-width="0.12">2</text>
<text x="522.35" y="569.8" text-anchor="middle" font-size="7.8" fill="#2a2a2a" stroke="#2a2a2a" stroke-width="0.12">2.5</text>
<text x="542.82" y="569.8" text-anchor="middle" font-size="7.8" fill="#2a2a2a" stroke="#2a2a2a" stroke-width="0.12">3</text>
<text x="564.49" y="569.8" text-anchor="middle" font-size="7.8" fill="#2a2a2a" stroke="#2a2a2a" stroke-width="0.12">3.5</text>
<text x="489.2" y="583.2" text-anchor="middle" font-size="11" font-weight="bold" font-style="italic" fill="#111" stroke="#111" stroke-width="0.3">Distance (μm)</text>
<text transform="translate(394.9 485.3) rotate(-90)" text-anchor="middle" font-size="11" font-weight="bold" font-style="italic" fill="#111" stroke="#111" stroke-width="0.3">Intensity (a. u.)</text>
<text x="418" y="421.8" font-size="18" fill="#111">(k)</text>
<line x1="417.6" y1="481.09" x2="561.3" y2="481.09" stroke="#e06060" stroke-width="1.8" opacity="0.5"/>
<line x1="417.6" y1="481.09" x2="561.3" y2="481.09" stroke="#961a1f" stroke-width="2.2" stroke-dasharray="2.1 1.5"/>
<path d="M416.64 552.35 L421.55 549.62 L427.01 544.16 L432.47 533.79 L437.11 523.41 L442.02 521.5 L446.93 516.04 L451.84 507.85 L457.03 502.39 L461.94 496.93 L466.58 488.74 L472.04 475.09 L476.95 467.71 L481.59 466.89 L486.23 470.44 L491.68 468.26 L496.6 465.53 L501.51 466.08 L506.15 464.16 L511.6 458.7 L516.52 456.79 L521.15 453.52 L526.07 460.61 L530.16 460.07 L535.35 473.72 L540.26 495.56 L545.71 512.49 L551.17 524.23 L556.63 536.52 L560.72 540.61" fill="none" stroke="#b66c74" stroke-width="1.3" stroke-linejoin="round"/>
<rect x="602.9" y="405" width="144.7" height="154.1" fill="none" stroke="#b2b4b4" stroke-width="1.5"/>
<path d="M602.2 559.1h-1.6 M602.2 548.09h-1.6 M602.2 537.09h-1.6 M602.2 526.08h-1.6 M602.2 515.07h-1.6 M602.2 504.06h-1.6 M602.2 493.06h-1.6 M602.2 482.05h-1.6 M602.2 471.04h-1.6 M602.2 460.04h-1.6 M602.2 449.03h-1.6 M602.2 438.02h-1.6 M602.2 427.01h-1.6 M602.2 416.01h-1.6 M602.2 405h-1.6 M602.9 559.8v1.4 M623.97 559.8v1.4 M645.04 559.8v1.4 M666.11 559.8v1.4 M687.18 559.8v1.4 M708.25 559.8v1.4 M729.32 559.8v1.4" stroke="#8a8a8a" stroke-width="1" fill="none"/>
<text transform="translate(600.1 560) scale(0.9 1)" text-anchor="end" font-size="7.5" fill="#3a3a3a" stroke="#3a3a3a" stroke-width="0.1">0</text>
<text transform="translate(600.1 537.99) scale(0.9 1)" text-anchor="end" font-size="7.5" fill="#3a3a3a" stroke="#3a3a3a" stroke-width="0.1">50</text>
<text transform="translate(600.1 515.97) scale(0.9 1)" text-anchor="end" font-size="7.5" fill="#3a3a3a" stroke="#3a3a3a" stroke-width="0.1">100</text>
<text transform="translate(600.1 493.96) scale(0.9 1)" text-anchor="end" font-size="7.5" fill="#3a3a3a" stroke="#3a3a3a" stroke-width="0.1">150</text>
<text transform="translate(600.1 471.94) scale(0.9 1)" text-anchor="end" font-size="7.5" fill="#3a3a3a" stroke="#3a3a3a" stroke-width="0.1">200</text>
<text transform="translate(600.1 449.93) scale(0.9 1)" text-anchor="end" font-size="7.5" fill="#3a3a3a" stroke="#3a3a3a" stroke-width="0.1">250</text>
<text transform="translate(600.1 427.91) scale(0.9 1)" text-anchor="end" font-size="7.5" fill="#3a3a3a" stroke="#3a3a3a" stroke-width="0.1">300</text>
<text transform="translate(600.1 405.9) scale(0.9 1)" text-anchor="end" font-size="7.5" fill="#3a3a3a" stroke="#3a3a3a" stroke-width="0.1">350</text>
<text x="602.7" y="569.9" text-anchor="middle" font-size="7.8" fill="#2a2a2a" stroke="#2a2a2a" stroke-width="0.12">0</text>
<text x="624.37" y="569.9" text-anchor="middle" font-size="7.8" fill="#2a2a2a" stroke="#2a2a2a" stroke-width="0.12">0.5</text>
<text x="644.84" y="569.9" text-anchor="middle" font-size="7.8" fill="#2a2a2a" stroke="#2a2a2a" stroke-width="0.12">1</text>
<text x="666.51" y="569.9" text-anchor="middle" font-size="7.8" fill="#2a2a2a" stroke="#2a2a2a" stroke-width="0.12">1.5</text>
<text x="686.98" y="569.9" text-anchor="middle" font-size="7.8" fill="#2a2a2a" stroke="#2a2a2a" stroke-width="0.12">2</text>
<text x="708.65" y="569.9" text-anchor="middle" font-size="7.8" fill="#2a2a2a" stroke="#2a2a2a" stroke-width="0.12">2.5</text>
<text x="729.12" y="569.9" text-anchor="middle" font-size="7.8" fill="#2a2a2a" stroke="#2a2a2a" stroke-width="0.12">3</text>
<text x="750.79" y="569.9" text-anchor="middle" font-size="7.8" fill="#2a2a2a" stroke="#2a2a2a" stroke-width="0.12">3.5</text>
<text x="675.25" y="583.3" text-anchor="middle" font-size="11" font-weight="bold" font-style="italic" fill="#111" stroke="#111" stroke-width="0.3">Distance (μm)</text>
<text transform="translate(580.6 485.35) rotate(-90)" text-anchor="middle" font-size="11" font-weight="bold" font-style="italic" fill="#111" stroke="#111" stroke-width="0.3">Intensity (a. u.)</text>
<text x="604" y="421.8" font-size="18" fill="#111">(l)</text>
<line x1="603.9" y1="475.9" x2="747.1" y2="475.9" stroke="#e06060" stroke-width="1.8" opacity="0.5"/>
<line x1="603.9" y1="475.9" x2="747.1" y2="475.9" stroke="#961a1f" stroke-width="2.2" stroke-dasharray="2.1 1.5"/>
<path d="M602.91 543.34 L607.55 540.61 L612.19 531.06 L617.1 517.41 L622.56 503.75 L628.02 492.29 L632.93 486.01 L637.84 483.28 L642.21 479.73 L647.12 484.1 L652.03 468.26 L656.94 471.54 L662.4 467.17 L666.77 466.08 L671.68 464.44 L676.59 460.07 L681.23 456.52 L686.14 445.87 L691.6 451.88 L696.79 446.96 L701.15 446.96 L705.79 449.69 L710.43 467.71 L715.89 482.46 L720.8 501.02 L726.26 516.04 L731.71 530.51 L737.17 542.53 L741.27 548.81 L746.72 550.72" fill="none" stroke="#b66c74" stroke-width="1.3" stroke-linejoin="round"/>
<text transform="translate(28 507) rotate(-90)" font-family="Liberation Sans, sans-serif" font-size="7.2" fill="#7c7c7c" stroke="#7c7c7c" stroke-width="0.25" textLength="38.5" lengthAdjust="spacingAndGlyphs">Intensity</text>
</svg>
</body></html>
